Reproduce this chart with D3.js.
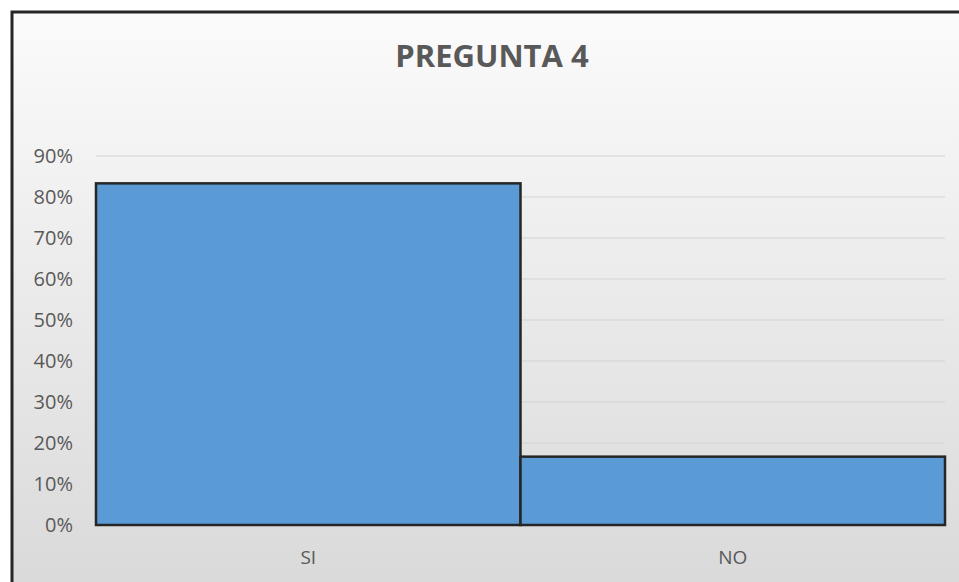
<!DOCTYPE html>
<html>
<head>
<meta charset="utf-8">
<script src="https://cdn.jsdelivr.net/npm/d3@7"></script>
<style>
  body { margin: 0; background: #fff; }
  svg { display: block; }
</style>
</head>
<body>
<div id="chart"></div>
<script>
// data
var categories = ["SI", "NO"];
var values = [0.8333, 0.1667];
var yTicks = [0, 0.1, 0.2, 0.3, 0.4, 0.5, 0.6, 0.7, 0.8, 0.9];

var width = 959, height = 582;
var margin = {top: 156, right: 14, bottom: 57, left: 96};

var svg = d3.select("#chart").append("svg")
    .attr("width", width)
    .attr("height", height);

// background gradient
var grad = svg.append("defs").append("linearGradient")
    .attr("id", "bg")
    .attr("x1", "0%").attr("y1", "0%")
    .attr("x2", "0%").attr("y2", "100%");
grad.append("stop").attr("offset", "0%").attr("stop-color", "#fbfbfb");
grad.append("stop").attr("offset", "100%").attr("stop-color", "#d8d8d8");

svg.append("rect")
    .attr("x", 12).attr("y", 12)
    .attr("width", width + 20).attr("height", height + 20)
    .attr("fill", "url(#bg)")
    .attr("stroke", "#262626")
    .attr("stroke-width", 3);

var x = d3.scaleBand()
    .domain(categories)
    .range([margin.left, width - margin.right])
    .padding(0);

var y = d3.scaleLinear()
    .domain([0, 0.9])
    .range([height - margin.bottom, margin.top]);

// gridlines
svg.append("g").selectAll("line")
    .data(yTicks)
    .join("line")
    .attr("x1", margin.left).attr("x2", width - margin.right)
    .attr("y1", d => y(d)).attr("y2", d => y(d))
    .attr("stroke", "#d3d3d3")
    .attr("stroke-width", 1);

// y labels
svg.append("g").selectAll("text")
    .data(yTicks)
    .join("text")
    .attr("x", 73)
    .attr("y", d => y(d))
    .attr("dy", "0.35em")
    .attr("text-anchor", "end")
    .attr("font-family", "'Open Sans', sans-serif")
    .attr("font-size", 20)
    .attr("fill", "#595959")
    .text(d => d3.format(".0%")(d));

// bars
svg.append("g").selectAll("rect")
    .data(values)
    .join("rect")
    .attr("x", (d, i) => x(categories[i]))
    .attr("y", d => y(d))
    .attr("width", x.bandwidth())
    .attr("height", d => y(0) - y(d))
    .attr("fill", "#5b9bd5")
    .attr("stroke", "#262626")
    .attr("stroke-width", 2.5);

// x labels
svg.append("g").selectAll("text")
    .data(categories)
    .join("text")
    .attr("x", d => x(d) + x.bandwidth() / 2)
    .attr("y", 564)
    .attr("text-anchor", "middle")
    .attr("font-family", "'Open Sans', sans-serif")
    .attr("font-size", 19)
    .attr("fill", "#595959")
    .text(d => d);

// title
svg.append("text")
    .attr("x", 492)
    .attr("y", 67)
    .attr("text-anchor", "middle")
    .attr("font-family", "'Open Sans', sans-serif")
    .attr("font-weight", "bold")
    .attr("font-size", 31)
    .attr("fill", "#595959")
    .text("PREGUNTA 4");
</script>
</body>
</html>
